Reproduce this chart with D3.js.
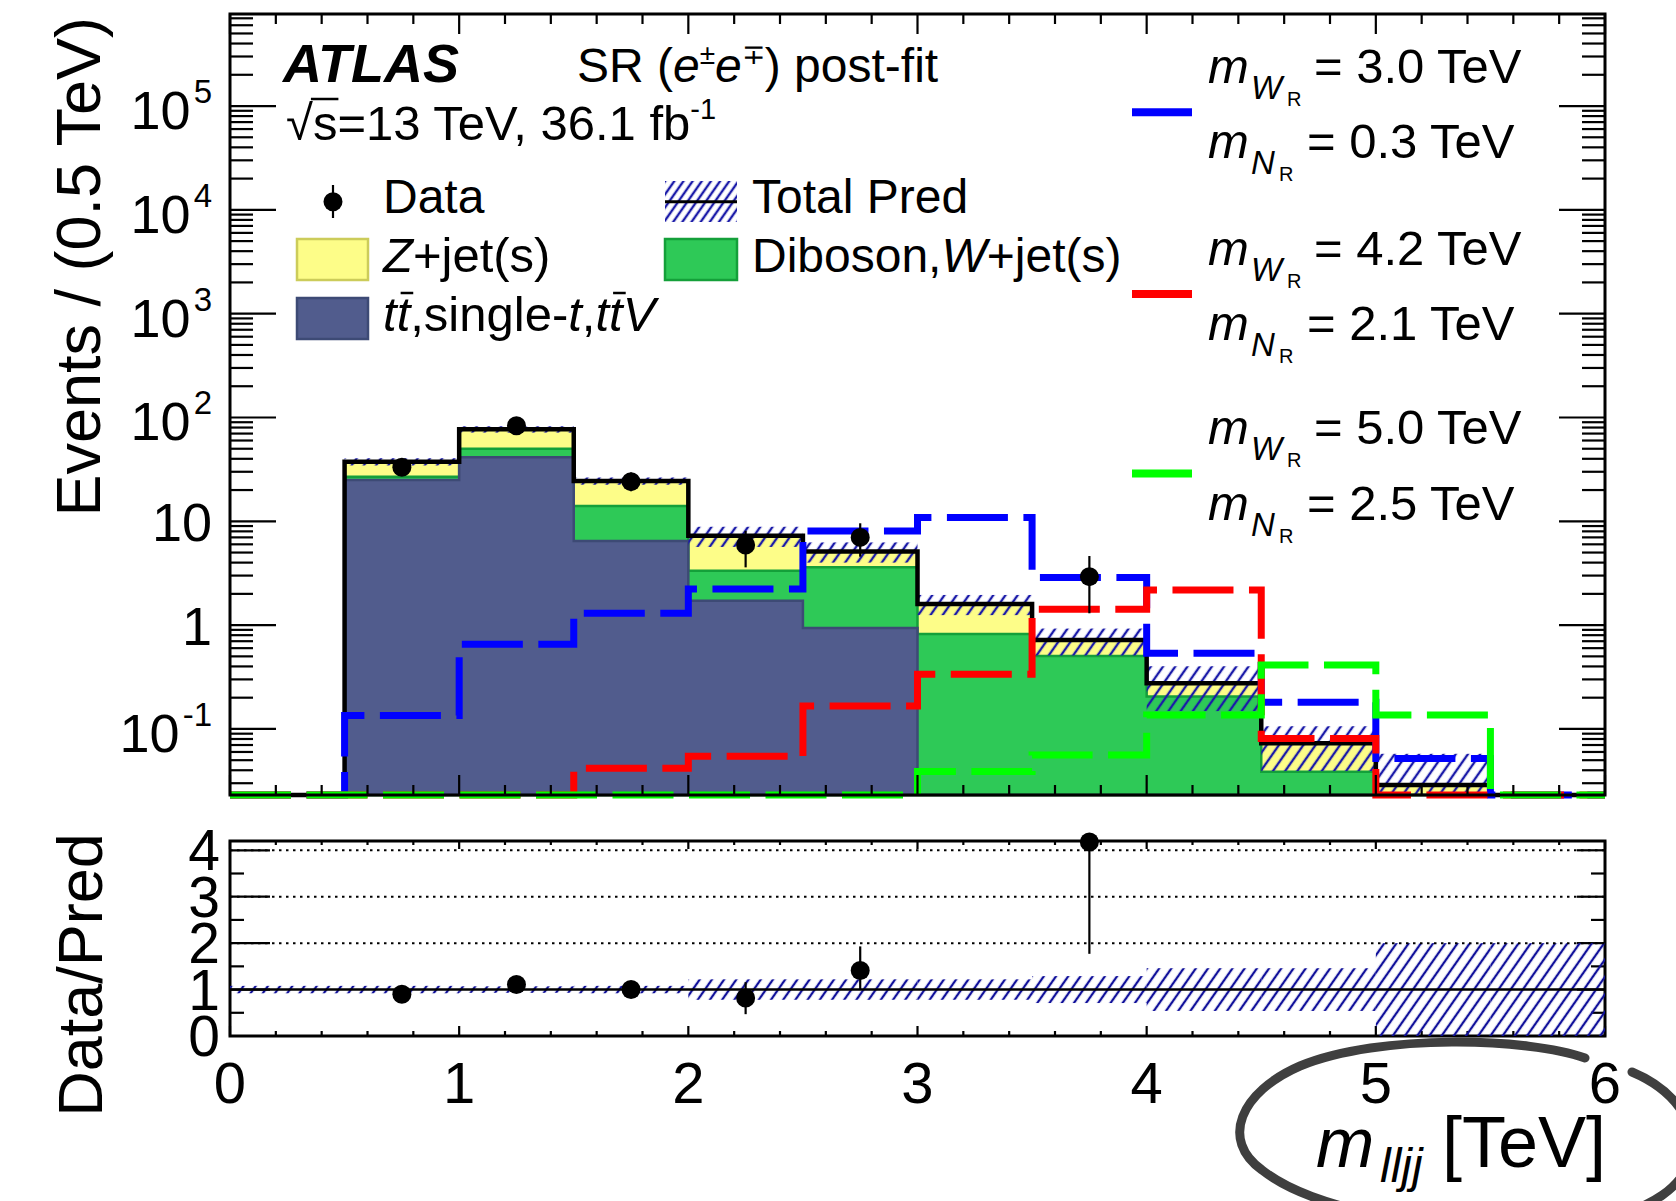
<!DOCTYPE html>
<html><head><meta charset="utf-8">
<script src="https://cdn.jsdelivr.net/npm/d3@7"></script>
<style>
body{margin:0;background:#fff}
svg{display:block}
text{font-family:"Liberation Sans",Arial,Helvetica,sans-serif;fill:#000}
</style>
</head><body>
<svg id="c" width="1676" height="1201"></svg>
<script>
// ---------------- data ----------------
const binLow   = [0,0.5,1.0,1.5,2.0,2.5,3.0,3.5,4.0,4.5,5.0,5.5];
const binWidth = 0.5;
const ttbar    = [0, 25.0, 41.4, 6.46, 1.72, 0.94, 0, 0, 0, 0, 0, 0];
const diboson  = [0, 1.9, 8.6, 7.6, 1.62, 2.67, 0.82, 0.503, 0.205, 0.0387, 0.021, 0.004];
const zjets    = [0, 10.6, 26.9, 10.4, 3.92, 1.52, 0.78, 0.215, 0.07, 0.034, 0.0078, 0.003];
const relUnc   = [0.08, 0.08, 0.07, 0.08, 0.22, 0.22, 0.22, 0.29, 0.46, 0.46, 1.0, 1.0];

const dataVal  = [null, 33.1, 83.4, 24.1, 5.9, 7.0, null, 2.93, null, null, null, null];
const dataLo   = [null, 27.5, 74.0, 19.5, 3.6, 4.56, null, 1.30, null, null, null, null];
const dataHi   = [null, 39.5, 93.0, 29.5, 8.1, 9.57, null, 4.63, null, null, null, null];

const ratioVal = [null, 0.90, 1.11, 1.00, 0.82, 1.41, null, 4.18, null, null, null, null];
const ratioLo  = [null, 0.76, 1.00, 0.84, 0.47, 1.00, null, 1.77, null, null, null, null];
const ratioHi  = [null, 1.04, 1.22, 1.16, 1.16, 1.93, null, 4.20, null, null, null, null];

const sigBlue  = [0, 0.135, 0.653, 1.30, 2.23, 8.07, 10.9, 2.88, 0.535, 0.181, 0.052, 0];
const sigRed   = [0, 0, 0, 0.0417, 0.0547, 0.166, 0.336, 1.42, 2.18, 0.081, 0.02, 0];
const sigGreen = [0, 0, 0, 0, 0, 0, 0.039, 0.056, 0.136, 0.413, 0.136, 0];
const sigMW    = ['3.0', '4.2', '5.0'];
const sigMN    = ['0.3', '2.1', '2.5'];
const sigColor = ['#0000ff', '#ff0000', '#00ff00'];

const xTicks      = [0,1,2,3,4,5,6];
const xTickLabels = ['0','1','2','3','4','5','6'];
const yTickValues = [1e5, 1e4, 1e3, 1e2, 10, 1, 0.1];
const yTickBase   = ['10','10','10','10','10','1','10'];
const yTickExp    = ['5','4','3','2','','','-1'];
const rTicks      = [0,1,2,3,4];
const rTickLabels = ['0','1','2','3','4'];

// ---------------- scales ----------------
const YMIN = 0.0231, YMAX = 7.7e5;
const x  = d3.scaleLinear().domain([0,6]).range([230,1605]);
const y  = d3.scaleLog().domain([YMIN, YMAX]).range([795,14]);
const yr = d3.scaleLinear().domain([0,4.2]).range([1036,841]);
const yc = v => y(Math.max(v, YMIN));

const svg = d3.select('#c');
const defs = svg.append('defs');
function hatchPattern(id, sp, col, w){
  const p = defs.append('pattern').attr('id', id).attr('patternUnits','userSpaceOnUse')
    .attr('width', sp).attr('height', sp).attr('patternTransform','rotate(35)');
  p.append('line').attr('x1', sp/2).attr('x2', sp/2).attr('y1', 0).attr('y2', sp)
    .attr('stroke', col).attr('stroke-width', w);
}
hatchPattern('hatch', 10, '#1a1aa8', 2.4);
hatchPattern('hatchR', 10, '#10109a', 2.3);
hatchPattern('hatchL', 7.5, '#1a1aa8', 2.4);
defs.append('clipPath').attr('id','clipMain').append('rect')
  .attr('x',230).attr('y',14).attr('width',1375).attr('height',789);
defs.append('clipPath').attr('id','clipRatio').append('rect')
  .attr('x',230).attr('y',841).attr('width',1375).attr('height',195);

// ---------------- main stack ----------------
const nb = binLow.length;
const cum1 = ttbar.slice();
const cum2 = cum1.map((v,i)=>v+diboson[i]);
const cum3 = cum2.map((v,i)=>v+zjets[i]);
function stepPts(vals){
  const pts=[];
  vals.forEach((v,i)=>{pts.push({x:binLow[i],v}); pts.push({x:binLow[i]+binWidth,v});});
  return pts;
}
const gMain = svg.append('g').attr('clip-path','url(#clipMain)');
const area = d3.area().x(d=>x(d.x)).y0(y(YMIN)).y1(d=>yc(d.v));
const stackLayers = [
  {vals:cum3, fill:'#fdfd88', stroke:'#d8d860'},
  {vals:cum2, fill:'#2ec957', stroke:'#14a03a'},
  {vals:cum1, fill:'#515c8d', stroke:'#3d4a75'}
];
stackLayers.forEach(L=>{
  gMain.append('path').datum(stepPts(L.vals)).attr('d', area)
    .attr('fill', L.fill).attr('stroke', L.stroke).attr('stroke-width', 2.5);
});
// uncertainty hatch
gMain.selectAll('rect.unc').data(binLow.map((b,i)=>({b, t:cum3[i], e:relUnc[i]})).filter(d=>d.t>0))
  .join('rect').attr('class','unc')
  .attr('x', d=>x(d.b)).attr('width', d=>x(d.b+binWidth)-x(d.b))
  .attr('y', d=>y(d.t*(1+d.e))).attr('height', d=>yc(d.t*(1-d.e))-y(d.t*(1+d.e)))
  .attr('fill','url(#hatch)');
// total outline
const line = d3.line().x(d=>x(d.x)).y(d=>yc(d.v));
gMain.append('path').datum(stepPts(cum3)).attr('d', line)
  .attr('fill','none').attr('stroke','#000').attr('stroke-width',4.5);

// signals
const gSig = svg.append('g');
[sigBlue, sigRed, sigGreen].forEach((s,k)=>{
  gSig.append('path').datum(stepPts(s)).attr('d', line)
    .attr('fill','none').attr('stroke', sigColor[k]).attr('stroke-width',7)
    .attr('stroke-dasharray','61,15.5');
});

// data
const gData = svg.append('g');
const dIdx = d3.range(nb).filter(i=>dataVal[i]!==null);
gData.selectAll('line.err').data(dIdx).join('line')
  .attr('x1', i=>x(binLow[i]+binWidth/2)).attr('x2', i=>x(binLow[i]+binWidth/2))
  .attr('y1', i=>y(dataLo[i])).attr('y2', i=>y(dataHi[i]))
  .attr('stroke','#000').attr('stroke-width',2.2);
gData.selectAll('circle').data(dIdx).join('circle')
  .attr('cx', i=>x(binLow[i]+binWidth/2)).attr('cy', i=>y(dataVal[i])).attr('r', 9.5).attr('fill','#000');

// ---------------- main frame & ticks ----------------
const gAx = svg.append('g').attr('stroke','#000');
gAx.append('rect').attr('x',230).attr('y',14).attr('width',1375).attr('height',781)
  .attr('fill','none').attr('stroke-width',3);
const xMinor = d3.range(0,6.001,0.2).filter(v=>Math.abs(v-Math.round(v))>1e-6);
function xTicksDraw(yTop, yBot, majT, minT, majB, minB){
  xTicks.forEach(v=>{
    gAx.append('line').attr('x1',x(v)).attr('x2',x(v)).attr('y1',yBot).attr('y2',yBot-majB).attr('stroke-width',2.2);
    gAx.append('line').attr('x1',x(v)).attr('x2',x(v)).attr('y1',yTop).attr('y2',yTop+majT).attr('stroke-width',2.2);
  });
  xMinor.forEach(v=>{
    gAx.append('line').attr('x1',x(v)).attr('x2',x(v)).attr('y1',yBot).attr('y2',yBot-minB).attr('stroke-width',2.2);
    gAx.append('line').attr('x1',x(v)).attr('x2',x(v)).attr('y1',yTop).attr('y2',yTop+minT).attr('stroke-width',2.2);
  });
}
xTicksDraw(14, 795, 20, 10, 20, 10);
// y log ticks
yTickValues.forEach(v=>{
  gAx.append('line').attr('x1',230).attr('x2',276).attr('y1',y(v)).attr('y2',y(v)).attr('stroke-width',2.2);
  gAx.append('line').attr('x1',1605).attr('x2',1559).attr('y1',y(v)).attr('y2',y(v)).attr('stroke-width',2.2);
});
for(let k=-2;k<=5;k++){
  for(let m=2;m<=9;m++){
    const v=m*Math.pow(10,k);
    if(v<YMIN||v>YMAX) continue;
    gAx.append('line').attr('x1',230).attr('x2',253).attr('y1',y(v)).attr('y2',y(v)).attr('stroke-width',2.2);
    gAx.append('line').attr('x1',1605).attr('x2',1582).attr('y1',y(v)).attr('y2',y(v)).attr('stroke-width',2.2);
  }
}
// y labels
const gLab = svg.append('g');
yTickValues.forEach((v,i)=>{
  const t = gLab.append('text').attr('x',212).attr('text-anchor','end').attr('font-size',54)
    .attr('y', y(v) + (yTickExp[i] ? 23 : 20));
  t.append('tspan').text(yTickBase[i]);
  if(yTickExp[i]) t.append('tspan').attr('dx',3).attr('dy',-26).attr('font-size',33).text(yTickExp[i]);
});

// ---------------- ratio panel ----------------
const gR = svg.append('g').attr('clip-path','url(#clipRatio)');
gR.selectAll('rect').data(binLow.map((b,i)=>({b,e:relUnc[i]}))).join('rect')
  .attr('x', d=>x(d.b)).attr('width', d=>x(d.b+binWidth)-x(d.b))
  .attr('y', d=>yr(1+d.e)).attr('height', d=>yr(1-d.e)-yr(1+d.e))
  .attr('fill','url(#hatchR)');
[2,3,4].forEach(v=>{
  gR.append('line').attr('x1',230).attr('x2',1605).attr('y1',yr(v)).attr('y2',yr(v))
    .attr('stroke','#000').attr('stroke-width',2).attr('stroke-dasharray','2.5,4.5');
});
gR.append('line').attr('x1',230).attr('x2',1605).attr('y1',yr(1)).attr('y2',yr(1))
  .attr('stroke','#000').attr('stroke-width',2.5);
const rIdx = d3.range(nb).filter(i=>ratioVal[i]!==null);
svg.append('g').selectAll('line').data(rIdx).join('line')
  .attr('x1', i=>x(binLow[i]+binWidth/2)).attr('x2', i=>x(binLow[i]+binWidth/2))
  .attr('y1', i=>yr(ratioLo[i])).attr('y2', i=>yr(ratioHi[i]))
  .attr('stroke','#000').attr('stroke-width',2.2);
svg.append('g').selectAll('circle').data(rIdx).join('circle')
  .attr('cx', i=>x(binLow[i]+binWidth/2)).attr('cy', i=>yr(ratioVal[i])).attr('r',9.5).attr('fill','#000');

gAx.append('rect').attr('x',230).attr('y',841).attr('width',1375).attr('height',195)
  .attr('fill','none').attr('stroke-width',3);
xTicksDraw(841, 1036, 8, 4, 10, 5);
rTicks.forEach(v=>{
  gAx.append('line').attr('x1',230).attr('x2',270).attr('y1',yr(v)).attr('y2',yr(v)).attr('stroke-width',2.2);
  gAx.append('line').attr('x1',1605).attr('x2',1577).attr('y1',yr(v)).attr('y2',yr(v)).attr('stroke-width',2.2);
});
[0.5,1.5,2.5,3.5].forEach(v=>{
  gAx.append('line').attr('x1',230).attr('x2',244).attr('y1',yr(v)).attr('y2',yr(v)).attr('stroke-width',2.2);
  gAx.append('line').attr('x1',1605).attr('x2',1591).attr('y1',yr(v)).attr('y2',yr(v)).attr('stroke-width',2.2);
});
rTicks.forEach((v,i)=>{
  gLab.append('text').attr('x',220).attr('y',yr(v)+20).attr('text-anchor','end')
    .attr('font-size',57).text(rTickLabels[i]);
});
xTicks.forEach((v,i)=>{
  gLab.append('text').attr('x',x(v)).attr('y',1103).attr('text-anchor','middle')
    .attr('font-size',58).text(xTickLabels[i]);
});

// ---------------- axis titles ----------------
gLab.append('text').attr('transform','translate(100,17) rotate(-90)').attr('text-anchor','end')
  .attr('font-size',63).text('Events / (0.5 TeV)');
gLab.append('text').attr('transform','translate(102,975) rotate(-90)').attr('text-anchor','middle')
  .attr('font-size',63).text('Data/Pred');
gLab.append('text').attr('x',1316).attr('y',1167).attr('font-size',70).attr('font-style','italic').text('m');
gLab.append('text').attr('x',1380).attr('y',1182).attr('font-size',48).attr('font-style','italic').text('lljj');
gLab.append('text').attr('x',1606).attr('y',1167).attr('text-anchor','end').attr('font-size',72).text('[TeV]');

// ---------------- labels in plot ----------------
gLab.append('text').attr('x',283).attr('y',82).attr('font-size',54).attr('font-weight','bold')
  .attr('font-style','italic').text('ATLAS');
{
  const t = gLab.append('text').attr('x',577).attr('y',82).attr('font-size',48);
  t.append('tspan').text('SR (');
  t.append('tspan').attr('font-style','italic').text('e');
  t.append('tspan').attr('dy',-18).attr('font-size',28).text('\u00b1');
  t.append('tspan').attr('dy',18).attr('font-style','italic').text('e');
  t.append('tspan').attr('dy',-18).attr('font-size',28).text('\u2213');
  t.append('tspan').attr('dy',18).text(') post-fit');
}
{
  const t = gLab.append('text').attr('x',286).attr('y',140).attr('font-size',49);
  t.append('tspan').text('\u221as=13 TeV, 36.1 fb');
  t.append('tspan').attr('dy',-21).attr('font-size',29).text('-1');
  const n = t.node();
  const e0 = n.getExtentOfChar(0), e1 = n.getExtentOfChar(1);
  gLab.append('line').attr('x1', e0.x + e0.width - 2).attr('x2', e1.x + e1.width + 1)
    .attr('y1', 99).attr('y2', 99).attr('stroke','#000').attr('stroke-width',2.5);
}

// legend (backgrounds)
const gLeg = svg.append('g');
gLeg.append('line').attr('x1',333).attr('x2',333).attr('y1',185).attr('y2',218).attr('stroke','#000').attr('stroke-width',2.2);
gLeg.append('circle').attr('cx',333).attr('cy',201.7).attr('r',9.5).attr('fill','#000');
gLeg.append('text').attr('x',383).attr('y',213).attr('font-size',48).text('Data');

gLeg.append('rect').attr('x',297).attr('y',239).attr('width',71).attr('height',41)
  .attr('fill','#fdfd88').attr('stroke','#cccc5a').attr('stroke-width',2.5);
{
  const t = gLeg.append('text').attr('x',383).attr('y',272).attr('font-size',49);
  t.append('tspan').attr('font-style','italic').text('Z');
  t.append('tspan').text('+jet(s)');
}
gLeg.append('rect').attr('x',297).attr('y',298).attr('width',71).attr('height',41)
  .attr('fill','#515c8d').attr('stroke','#3d4a75').attr('stroke-width',2.5);
{
  const parts = [['t',1,0],['t',1,1],[',single-',0,0],['t',1,0],[',',0,0],['t',1,0],['t',1,1],['V',1,0]];
  const t = gLeg.append('text').attr('x',383).attr('y',331).attr('font-size',49);
  parts.forEach(p=>t.append('tspan').attr('font-style', p[1]?'italic':'normal').text(p[0]));
  const n = t.node();
  let ci = 0;
  parts.forEach(p=>{
    if(p[2]){
      const e = n.getExtentOfChar(ci);
      gLeg.append('line').attr('x1', e.x+4).attr('x2', e.x+e.width+3)
        .attr('y1', 331-38).attr('y2', 331-38).attr('stroke','#000').attr('stroke-width',2.5);
    }
    ci += p[0].length;
  });
}
gLeg.append('rect').attr('x',665).attr('y',181).attr('width',72).attr('height',41).attr('fill','url(#hatchL)');
gLeg.append('line').attr('x1',665).attr('x2',737).attr('y1',201.7).attr('y2',201.7).attr('stroke','#000').attr('stroke-width',3);
gLeg.append('text').attr('x',752).attr('y',213).attr('font-size',48).text('Total Pred');
gLeg.append('rect').attr('x',665).attr('y',239).attr('width',72).attr('height',41)
  .attr('fill','#2ec957').attr('stroke','#14a03a').attr('stroke-width',2.5);
{
  const t = gLeg.append('text').attr('x',752).attr('y',272).attr('font-size',48);
  t.append('tspan').text('Diboson,');
  t.append('tspan').attr('font-style','italic').text('W');
  t.append('tspan').text('+jet(s)');
}

// legend (signals)
const sigLineY = [112.2, 294, 473.5];
sigLineY.forEach((ly,k)=>{
  gLeg.append('line').attr('x1',1132).attr('x2',1192).attr('y1',ly).attr('y2',ly)
    .attr('stroke',sigColor[k]).attr('stroke-width',8);
  const bw = ly - 29.5, bn = ly + 46;
  gLeg.append('text').attr('x',1208).attr('y',bw).attr('font-size',49).attr('font-style','italic').text('m');
  gLeg.append('text').attr('x',1251).attr('y',bw+16).attr('font-size',33).attr('font-style','italic').text('W');
  gLeg.append('text').attr('x',1287).attr('y',bw+23).attr('font-size',20).text('R');
  gLeg.append('text').attr('x',1314).attr('y',bw).attr('font-size',49).text('= ' + sigMW[k] + ' TeV');
  gLeg.append('text').attr('x',1208).attr('y',bn).attr('font-size',49).attr('font-style','italic').text('m');
  gLeg.append('text').attr('x',1251).attr('y',bn+16).attr('font-size',33).attr('font-style','italic').text('N');
  gLeg.append('text').attr('x',1279).attr('y',bn+23).attr('font-size',20).text('R');
  gLeg.append('text').attr('x',1307).attr('y',bn).attr('font-size',49).text('= ' + sigMN[k] + ' TeV');
});

// ---------------- hand-drawn ellipse annotation ----------------
const gE = svg.append('g').attr('fill','none').attr('stroke-linecap','round');
gE.append('path').attr('d','M1585,1058 C1530,1038 1380,1033 1300,1066 C1240,1092 1220,1140 1262,1170 C1290,1192 1330,1204 1372,1214')
  .attr('stroke','#3f3f3f').attr('stroke-width',9);
gE.append('path').attr('d','M1632,1072 C1670,1088 1700,1120 1690,1160 C1680,1190 1650,1205 1620,1215')
  .attr('stroke','#3f3f3f').attr('stroke-width',9);
</script>
</body></html>
